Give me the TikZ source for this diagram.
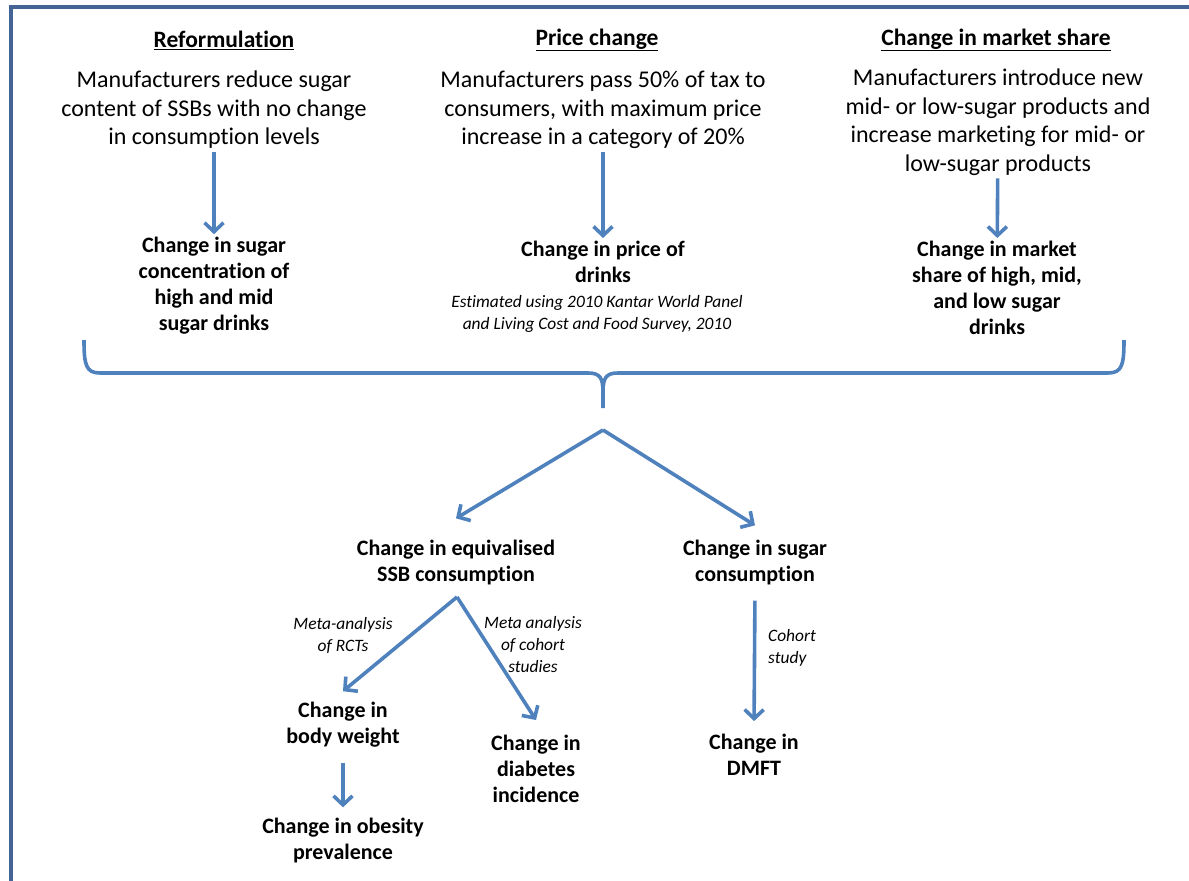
\documentclass[tikz,border=0pt]{standalone}
\usepackage{fontspec}
\setmainfont{Carlito}[Ligatures=NoCommon]
\usetikzlibrary{arrows.meta}
\definecolor{arrblue}{RGB}{79,129,189}
\definecolor{frameblue}{RGB}{68,100,150}

\begin{document}
\begin{tikzpicture}[x=1pt, y=-1pt,
  arr/.style={draw=arrblue, line width=3.6pt, -{Straight Barb[length=9pt, width=19pt]}},
  head/.style={font=\fontsize{23.5}{28}\selectfont\bfseries, inner sep=0pt},
  body/.style={align=center, font=\fontsize{24}{28.5}\selectfont, inner sep=3pt},
  result/.style={align=center, font=\fontsize{22}{26}\selectfont\bfseries, inner sep=3pt},
  note/.style={align=center, font=\fontsize{17.4}{22}\selectfont\itshape, inner sep=2pt}]
  \useasboundingbox (0,0) rectangle (1189,881);

  \draw[frameblue, line width=3.5pt] (11,881) -- (11,7) -- (1189,7);

  \node[head] (refhead) at (224,40) {\underline{Reformulation}};
  \node[head] (pricehead) at (597,40) {\underline{Price change}};
  \node[head] (markethead) at (996,40) {\underline{Change in market share}};

  \node[body] (refbody) at (214,110) {Manufacturers reduce sugar\\content of SSBs with no change\\in consumption levels};
  \node[body] (pricebody) at (603,110) {Manufacturers pass 50\% of tax to\\consumers, with maximum price\\increase in a category of 20\%};
  \node[body] (marketbody) at (998,122) {Manufacturers introduce new\\mid- or low-sugar products and\\increase marketing for mid- or\\low-sugar products};

  \node[result] (refres) at (214,286) {Change in sugar\\concentration of\\high and mid\\sugar drinks};
  \node[result] (priceres) at (603,262) {Change in price of\\drinks};
  \node[note] (pricenote) at (597,314) {Estimated using 2010 Kantar World Panel\\and Living Cost and Food Survey, 2010};
  \node[result] (marketres) at (997,288) {Change in market\\share of high, mid,\\and low sugar\\drinks};

  \draw[arr] (refbody) -- (refres);
  \draw[arr] (pricebody) -- (priceres);
  \draw[arr] (marketbody) -- (marketres);

  % brace
  \draw[arrblue, line width=3.6pt] (84,340) .. controls (84,365) and (86,373) .. (100,373) -- (588,373)
    .. controls (600,373) and (603,378) .. (603,392) -- (603,408);
  \draw[arrblue, line width=3.6pt] (603,392) .. controls (603,378) and (606,373) .. (618,373) -- (1108,373)
    .. controls (1122,373) and (1124,365) .. (1124,340);

  \coordinate (split) at (603,430);
  \node[result] (ssb) at (456,563) {Change in equivalised\\SSB consumption};
  \node[result] (sugar) at (755,563) {Change in sugar\\consumption};
  \draw[arr] (split) -- ([yshift=19pt]ssb.north);
  \draw[arr] (split) -- ([yshift=12pt]sugar.north);

  \coordinate (ssbsplit) at (457,597);
  \node[result] (bw) at (343,725) {Change in\\body weight};
  \node[result] (obesity) at (343,841) {Change in obesity\\prevalence};
  \node[result] (diab) at (536,769) {Change in\\diabetes\\incidence};
  \node[result] (dmft) at (754,755) {Change in\\DMFT};

  \draw[arr] (ssbsplit) -- ([yshift=8pt]bw.north);
  \draw[arr] (ssbsplit) -- ([yshift=12pt]diab.north);
  \draw[arr, shorten <=12pt, shorten >=10pt] (sugar.south) -- (dmft.north);
  \draw[arr, shorten <=12pt, shorten >=8pt] (bw.south) -- (obesity.north);

  \node[note] (rcts) at (343,635) {Meta-analysis\\of RCTs};
  \node[note] (cohorts) at (533,645) {Meta analysis\\of cohort\\studies};
  \node[note, align=left, anchor=west] (cohort) at (766,648) {Cohort\\study};
\end{tikzpicture}
\end{document}
